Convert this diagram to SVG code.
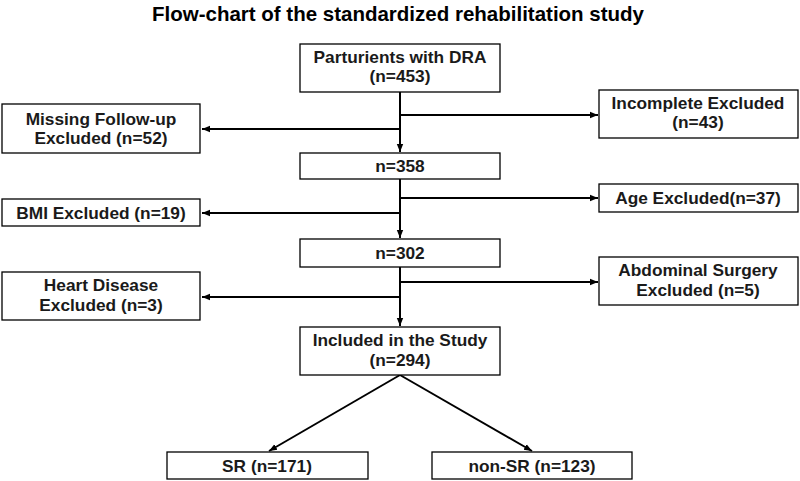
<svg xmlns="http://www.w3.org/2000/svg" width="800" height="481" viewBox="0 0 800 481">
<style>
.box{fill:#fff;stroke:#000;stroke-width:1.3}
.t{font-family:"Liberation Sans",Arial,sans-serif;font-weight:bold;font-size:17.3px;fill:#1a1a1a;text-anchor:middle}
.title{font-family:"Liberation Sans",Arial,sans-serif;font-weight:bold;font-size:20.5px;fill:#000;text-anchor:middle}
.ln{stroke:#000;stroke-width:2;fill:none}
</style>
<defs>
<marker id="ah" viewBox="0 0 10 10" refX="10" refY="5" markerWidth="4" markerHeight="4" orient="auto" markerUnits="strokeWidth">
<path d="M0,1 L10,5 L0,9 z" fill="#000"/>
</marker>
</defs>
<rect width="800" height="481" fill="#fff"/>
<text class="title" x="398" y="21">Flow-chart of the standardized rehabilitation study</text>
<g id="connectors">
<line class="ln" x1="400" y1="92" x2="400" y2="152" marker-end="url(#ah)"/>
<line class="ln" x1="400" y1="129" x2="202" y2="129" marker-end="url(#ah)"/>
<line class="ln" x1="400" y1="115" x2="598" y2="115" marker-end="url(#ah)"/>
<line class="ln" x1="400" y1="179" x2="400" y2="238" marker-end="url(#ah)"/>
<line class="ln" x1="400" y1="213" x2="202" y2="213" marker-end="url(#ah)"/>
<line class="ln" x1="400" y1="198" x2="598" y2="198" marker-end="url(#ah)"/>
<line class="ln" x1="400" y1="267" x2="400" y2="326" marker-end="url(#ah)"/>
<line class="ln" x1="400" y1="297" x2="202" y2="297" marker-end="url(#ah)"/>
<line class="ln" x1="400" y1="282" x2="598" y2="282" marker-end="url(#ah)"/>
<line class="ln" x1="400" y1="375" x2="269" y2="451" marker-end="url(#ah)"/>
<line class="ln" x1="400" y1="375" x2="532" y2="451" marker-end="url(#ah)"/>
</g>
<g id="n1"><rect class="box" x="300" y="44" width="200" height="48"/><text class="t" x="400" y="63">Parturients with DRA</text><text class="t" x="400" y="82">(n=453)</text></g>
<g id="n2"><rect class="box" x="2" y="104" width="198" height="49"/><text class="t" x="101" y="125">Missing Follow-up</text><text class="t" x="101" y="144">Excluded (n=52)</text></g>
<g id="n3"><rect class="box" x="599" y="90" width="199" height="48"/><text class="t" x="698" y="109">Incomplete Excluded</text><text class="t" x="698" y="128">(n=43)</text></g>
<g id="n4"><rect class="box" x="300" y="153" width="200" height="26"/><text class="t" x="400" y="172">n=358</text></g>
<g id="n5"><rect class="box" x="2" y="199" width="198" height="27"/><text class="t" x="101" y="219">BMI Excluded (n=19)</text></g>
<g id="n6"><rect class="box" x="599" y="184" width="199" height="28"/><text class="t" x="698" y="204">Age Excluded(n=37)</text></g>
<g id="n7"><rect class="box" x="300" y="239" width="200" height="28"/><text class="t" x="400" y="259">n=302</text></g>
<g id="n8"><rect class="box" x="2" y="272" width="198" height="48"/><text class="t" x="101" y="291">Heart Disease</text><text class="t" x="101" y="311">Excluded (n=3)</text></g>
<g id="n9"><rect class="box" x="599" y="257" width="199" height="48"/><text class="t" x="698" y="276">Abdominal Surgery</text><text class="t" x="698" y="296">Excluded (n=5)</text></g>
<g id="n10"><rect class="box" x="300" y="327" width="200" height="48"/><text class="t" x="400" y="346">Included in the Study</text><text class="t" x="400" y="366">(n=294)</text></g>
<g id="n11"><rect class="box" x="167" y="452" width="201" height="27"/><text class="t" x="267" y="472">SR (n=171)</text></g>
<g id="n12"><rect class="box" x="432" y="452" width="200" height="27"/><text class="t" x="532" y="472">non-SR (n=123)</text></g>
</svg>
